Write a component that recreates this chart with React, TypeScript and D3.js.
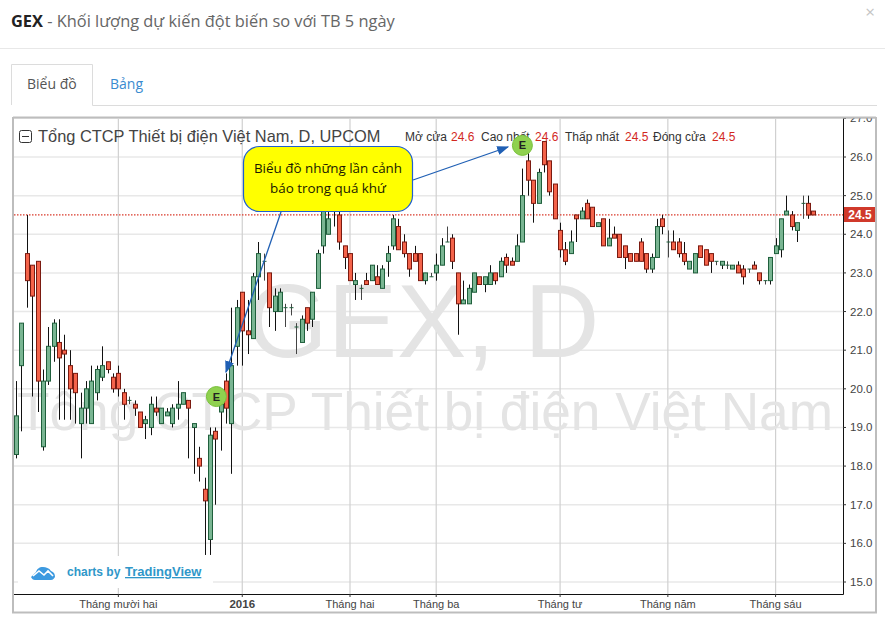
import React from "react";
import * as d3 from "d3";

const opens = [18.3,20.6,23.5,23.2,23.3,18.5,20.2,21.1,21.2,21.0,20.6,20.4,19.1,19.5,19.1,19.9,20.3,20.7,20.3,20.4,19.9,19.7,19.6,19.4,19.1,19.0,19.5,19.1,19.3,19.1,19.5,19.6,19.7,19.0,18.2,17.4,16.1,18.9,19.4,20.2,19.1,21.1,22.5,21.5,21.3,22.9,23.3,23.0,22.0,22.0,22.1,22.1,21.6,21.2,22.1,21.8,22.6,23.7,24.0,24.9,24.5,23.7,23.5,22.7,22.6,22.8,22.8,22.9,22.6,23.3,23.7,24.2,23.8,23.5,23.5,23.5,22.8,22.9,23.0,23.2,23.8,23.9,23.0,22.2,22.2,22.5,22.9,22.7,22.7,23.0,22.9,23.4,23.3,23.3,23.8,25.9,25.4,24.8,26.4,25.9,25.3,24.1,23.6,23.5,24.5,24.4,24.8,24.7,24.2,24.4,23.7,24.0,24.0,23.7,23.5,23.5,23.8,23.5,23.1,23.4,24.4,23.8,23.8,23.8,23.5,23.1,23.0,23.7,23.6,23.5,23.3,23.2,23.2,23.1,23.2,23.1,23.1,23.2,23.0,22.8,22.8,23.5,23.6,24.5,24.5,24.1,24.8,24.8,24.6];
const highs = [20.2,21.7,24.5,23.2,23.3,20.5,21.6,21.8,21.8,21.4,21.0,20.4,19.9,20.2,20.6,20.6,21.1,20.7,20.4,20.6,20.0,19.8,19.7,19.4,19.3,19.8,19.8,19.5,19.5,19.6,20.2,19.9,19.7,19.1,18.5,17.7,19.0,19.0,19.8,20.4,22.1,22.3,22.5,22.3,23.0,23.8,23.5,23.0,22.6,22.6,22.2,22.2,21.7,21.9,22.1,22.5,23.6,24.8,24.7,25.0,24.8,23.7,23.5,23.0,22.7,23.0,23.2,23.2,23.2,23.7,24.5,24.4,24.0,23.5,23.7,23.5,23.0,23.0,23.5,23.9,24.2,24.0,23.0,22.8,22.7,23.0,22.9,22.9,23.2,23.0,23.4,23.5,23.4,24.0,25.7,26.1,25.4,25.7,26.4,25.9,25.3,24.3,23.8,24.1,24.5,24.7,24.9,24.7,24.3,24.4,24.4,24.2,24.0,23.7,23.5,23.5,23.9,23.5,23.5,24.4,24.5,24.1,24.1,23.9,23.8,23.3,23.5,23.7,23.6,23.5,23.3,23.3,23.3,23.2,23.3,23.2,23.1,23.3,23.0,22.8,23.4,23.9,24.4,25.0,24.6,24.3,25.0,25.0,24.6];
const lows = [18.2,18.9,22.1,19.8,19.4,18.4,20.1,20.7,19.2,19.2,19.2,19.1,18.2,19.1,19.1,19.7,20.2,20.4,19.9,19.8,19.2,19.6,19.3,19.0,18.7,18.8,19.3,19.1,19.3,19.0,19.2,19.6,18.2,17.8,17.6,15.7,15.7,17.0,18.4,19.1,17.8,20.6,20.6,20.9,21.3,22.3,22.8,21.6,21.5,22.0,21.6,21.9,20.9,21.2,21.5,21.6,22.6,23.5,24.0,24.2,23.6,23.1,22.8,22.3,22.3,22.7,22.8,22.7,22.6,22.9,23.6,23.6,23.4,22.9,23.3,22.8,22.7,22.9,22.8,23.2,23.8,23.1,21.4,22.2,22.2,22.5,22.7,22.5,22.7,22.7,22.9,23.0,23.2,23.3,23.8,25.0,24.3,24.8,25.6,25.0,24.4,23.4,23.2,23.5,23.8,24.4,24.4,24.2,24.2,23.7,23.7,23.9,23.4,23.1,23.3,23.3,23.3,23.0,23.0,23.4,24.0,23.4,23.6,23.4,23.2,23.1,23.0,23.4,23.2,23.0,23.2,23.1,23.1,23.1,23.0,22.7,23.0,23.1,22.7,22.7,22.7,23.5,23.4,24.5,24.1,23.8,24.4,24.4,24.5];
const closes = [19.3,21.7,22.8,22.4,20.2,20.2,21.1,21.7,20.8,20.9,20.0,19.9,19.5,20.0,20.2,20.5,20.6,20.5,20.0,20.0,19.6,19.7,19.5,19.0,19.2,19.6,19.4,19.5,19.4,19.5,19.6,19.9,19.5,19.1,18.0,17.1,18.8,18.7,19.6,19.5,20.6,22.1,21.5,21.4,22.9,23.5,23.3,22.1,22.4,22.5,22.1,22.1,21.6,21.8,21.7,22.5,23.5,24.6,24.4,24.6,23.8,23.4,22.8,22.8,22.6,22.7,23.2,22.7,23.1,23.5,24.4,23.6,23.5,23.1,23.3,22.8,23.0,22.9,23.2,23.7,23.8,23.3,22.2,22.3,22.6,23.0,22.7,22.9,23.0,22.8,23.3,23.2,23.2,23.7,25.0,25.4,24.8,25.6,25.8,25.1,24.4,23.6,23.3,23.8,24.4,24.6,24.4,24.2,24.3,23.7,23.9,23.9,23.4,23.4,23.3,23.3,23.3,23.1,23.4,24.2,24.2,23.8,23.6,23.5,23.3,23.3,23.5,23.4,23.2,23.3,23.3,23.3,23.2,23.2,23.0,22.9,23.1,23.1,22.8,22.8,23.4,23.7,24.4,24.6,24.2,24.3,24.8,24.5,24.5];

const priceTicks = [15,16,17,18,19,20,21,22,23,24,25,26,27];
const monthIdx = [19,42,62,78,101,121,141];
const monthLabels = ["Tháng mười hai","2016","Tháng hai","Tháng ba","Tháng tư","Tháng năm","Tháng sáu"];
const legendLabels = ["Mở cửa","Cao nhất","Thấp nhất","Đóng cửa"];
const legendValues = ["24.6","24.6","24.5","24.5"];
const legendLabelX = [405,481,565,653];
const legendValueX = [451,535,625,712];
const lastPrice = 24.5;
const earningsIdx = [37.2,94];
const earningsPrice = [19.8,26.3];

const W = 885, H = 624;
const y = d3.scaleLinear().domain([15,26]).range([582,157]);
const x = d3.scaleLinear().domain([0,148]).range([16,813.3]);
const SANS = "'Liberation Sans', Arial, sans-serif";
const OPEN = "'Open Sans', sans-serif";
const GREEN = "#79b592", GREEN_S = "#1f5f3c", RED = "#f4634a", RED_S = "#7a1a10";

export default function App() {
  const plotL = 14, plotR = 843, plotT = 119, plotB = 594;
  return (
    <svg width={W} height={H} viewBox={`0 0 ${W} ${H}`} style={{ position: "fixed", left: 0, top: 0, background: "#fff" }}>
      <defs>
        <clipPath id="plot"><rect x={plotL} y={plotT} width={plotR - plotL} height={plotB - plotT} /></clipPath>
        <marker id="arr" viewBox="0 0 10 10" refX="9" refY="5" markerWidth="12" markerHeight="9" orient="auto-start-reverse" markerUnits="userSpaceOnUse" preserveAspectRatio="none">
          <path d="M0,0L10,5L0,10Z" fill="#1f5fb4" />
        </marker>
      </defs>

      {/* modal header */}
      <text x={11} y={27} fontFamily={OPEN} fontSize={16.4} fill="#333"><tspan fontWeight={700} fill="#222">GEX</tspan><tspan fill="#666"> - Khối lượng dự kiến đột biến so với TB 5 ngày</tspan></text>
      <text x={870} y={18} fontFamily={OPEN} fontSize={17} fill="#c4c4c4" textAnchor="middle">×</text>
      <line x1={0} x2={W} y1={48.5} y2={48.5} stroke="#e8e8e8" />

      {/* tabs */}
      <path d="M11.5,105V64.5H92.5V105.5H877" fill="none" stroke="#dcdcdc" />
      <text x={27} y={89} fontFamily={OPEN} fontSize={14} fill="#555">Biểu đồ</text>
      <text x={110} y={89} fontFamily={OPEN} fontSize={14} fill="#3a8bd0">Bảng</text>

      {/* panel */}
      <rect x={13} y={117.5} width={863} height={495} fill="#fff" stroke="#bdbdbd" strokeWidth={2} />

      {/* grid */}
      {priceTicks.map(t => <line key={t} x1={plotL} x2={plotR} y1={y(t)} y2={y(t)} stroke="#e8e8e8" strokeWidth={1.5} />)}
      {monthIdx.map(i => <line key={i} x1={x(i)} x2={x(i)} y1={plotT} y2={plotB} stroke="#d0d0d0" strokeWidth={1.2} />)}

      {/* watermark */}
      <text x={423} y={357} textAnchor="middle" fontFamily={SANS} fontSize={104} fill="#e4e4e4">GEX, D</text>
      <text x={425} y={430} textAnchor="middle" fontFamily={SANS} fontSize={53.2} fill="#e4e4e4">Tổng CTCP Thiết bị điện Việt Nam</text>

      {/* last price line */}
      <line x1={plotL} x2={plotR} y1={y(lastPrice)} y2={y(lastPrice)} stroke="#d93a2b" strokeWidth={1.2} strokeDasharray="1.5 1.5" />

      {/* candles */}
      <g clipPath="url(#plot)">
        {opens.map((o, i) => {
          const c = closes[i], up = c >= o;
          const cx = Math.round(x(i)) + 0.5;
          const top = y(Math.max(o, c)), bot = y(Math.min(o, c));
          return (
            <g key={i}>
              <line x1={cx} x2={cx} y1={y(highs[i])} y2={y(lows[i])} stroke={o === c ? "#444" : "#111"} strokeWidth={1} />
              {o === c
                ? <line x1={cx - 2} x2={cx + 2} y1={top} y2={top} stroke={GREEN_S} strokeWidth={1} />
                : <rect x={cx - 2} y={top} width={4} height={Math.max(bot - top, 1)} fill={up ? GREEN : RED} stroke={up ? GREEN_S : RED_S} strokeWidth={1} />}
            </g>
          );
        })}
      </g>

      {/* title & legend */}
      <rect x={19.5} y={130.5} width={12} height={12} rx={2} fill="#fff" stroke="#333" />
      <line x1={22} x2={29} y1={136.5} y2={136.5} stroke="#333" />
      <text x={38} y={142} fontFamily={SANS} fontSize={16.4} fill="#444">Tổng CTCP Thiết bị điện Việt Nam, D, UPCOM</text>
      {legendLabels.map((l, i) => <text key={l} x={legendLabelX[i]} y={141} fontFamily={SANS} fontSize={12} fill="#333">{l}</text>)}
      {legendValues.map((v, i) => <text key={i} x={legendValueX[i]} y={141} fontFamily={SANS} fontSize={12} fill="#d2281e">{v}</text>)}

      {/* E markers */}
      {earningsIdx.map((i, k) => (
        <g key={k}>
          <circle cx={x(i)} cy={y(earningsPrice[k])} r={10} fill="#8fd14f" stroke="#78c03a" />
          <text x={x(i)} y={y(earningsPrice[k]) + 4} textAnchor="middle" fontFamily={SANS} fontSize={11} fontWeight={700} fill="#222">E</text>
        </g>
      ))}

      {/* axes */}
      <path d={`M${plotR + 0.5},${plotT}V${plotB + 0.5}H${plotL}`} fill="none" stroke="#111" strokeWidth={1} />
      {priceTicks.map(t => (
        <g key={t}>
          <line x1={plotR} x2={plotR + 3} y1={y(t)} y2={y(t)} stroke="#333" />
          <text x={850} y={y(t) + 4} fontFamily={SANS} fontSize={11.5} fill="#444">{d3.format(".1f")(t)}</text>
        </g>
      ))}
      <rect x={12} y={108} width={868} height={9} fill="#fff" />
      <line x1={13} x2={876} y1={117.5} y2={117.5} stroke="#bdbdbd" strokeWidth={2} />
      {monthIdx.map((i, k) => (
        <g key={i}>
          <line x1={x(i)} x2={x(i)} y1={plotB} y2={plotB + 3} stroke="#333" />
          <text x={x(i)} y={608} textAnchor="middle" fontFamily={SANS} fontSize={k === 1 ? 11.5 : 11} fontWeight={k === 1 ? 700 : 400} fill="#444">{monthLabels[k]}</text>
        </g>
      ))}
      <rect x={844} y={207} width={31} height={15} fill="#d0392b" />
      <text x={860} y={219} textAnchor="middle" fontFamily={SANS} fontSize={12} fontWeight={700} fill="#fff">{d3.format(".1f")(lastPrice)}</text>

      {/* logo */}
      <rect x={18} y={556} width={195} height={32} fill="#fff" />
      <path d="M31,577l5,-5c1,-3,3,-5,7,-5c3,0,6,1,8,4c3,1,4,3,4,6c-2,3,-3,3,-5,3H35c-2,0,-3,-1,-4,-3Z" fill="#3d9ae0" />
      <path d="M33,576l6,-5l5,4l4,-4l5,5" fill="none" stroke="#fff" strokeWidth={1.6} />
      <text x={67} y={576} fontFamily={SANS} fontSize={12} fontWeight={700} fill="#2f97c9">charts by</text>
      <text x={125} y={576} fontFamily={SANS} fontSize={13} fontWeight={700} fill="#2f97c9" textDecoration="underline">TradingView</text>

      {/* annotation */}
      <line x1={281} y1={212} x2={226} y2={372} stroke="#1f5fb4" strokeWidth={1.3} markerEnd="url(#arr)" />
      <line x1={413} y1={180} x2={508} y2={147} stroke="#1f5fb4" strokeWidth={1.3} markerEnd="url(#arr)" />
      <rect x={243.5} y={146.5} width={169} height={65} rx={16} fill="#ffff00" stroke="#1f5fd0" strokeWidth={1.2} />
      <text x={328} y={173} textAnchor="middle" fontFamily={OPEN} fontSize={13.4} fill="#1a1a00">Biểu đồ những lần cảnh</text>
      <text x={328} y={193} textAnchor="middle" fontFamily={OPEN} fontSize={13.4} fill="#1a1a00">báo trong quá khứ</text>
    </svg>
  );
}
